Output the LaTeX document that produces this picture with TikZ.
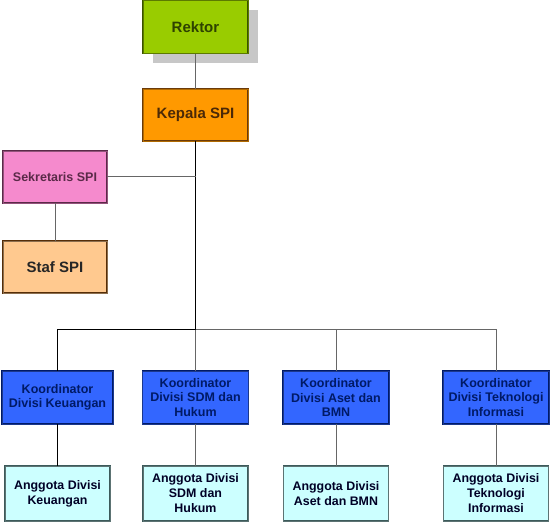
\documentclass[tikz,border=0pt]{standalone}
\usepackage{fontspec}
\setmainfont{Liberation Sans}
\usetikzlibrary{shadows}
\definecolor{hijau}{HTML}{99CC00}
\definecolor{hijautua}{HTML}{3A5200}
\definecolor{oranye}{HTML}{FF9900}
\definecolor{coklat}{HTML}{6B3A0A}
\definecolor{merahmuda}{HTML}{F58ACD}
\definecolor{ungutua}{HTML}{5A2A48}
\definecolor{krem}{HTML}{FFC98F}
\definecolor{biru}{HTML}{3366FF}
\definecolor{birutua}{HTML}{001A66}
\definecolor{tosca}{HTML}{CCFFFF}
\definecolor{toscatua}{HTML}{3C5A5A}
\begin{document}
\begin{tikzpicture}[x = 1pt, y = -1pt,
  kotak/.style = {rectangle, draw, double, line width = 0.5pt, double distance = 0.7pt, align = center, inner sep = 2pt, minimum height = 52pt},
  garis/.style = {draw = gray!80!black, line width = 1pt},
  garishitam/.style = {draw = black, line width = 1pt}]
\useasboundingbox (0,0) rectangle (550,524);
\pgfmathsetlengthmacro\lebar{105};
\node[kotak, minimum width = \lebar, minimum height = 53pt, fill = hijau, draw = hijautua, double = hijau!60!black, text = hijautua!80!black, font = \fontsize{15}{17}\bfseries, drop shadow = {shadow xshift = 10pt, shadow yshift = -10pt, fill = black!22, opacity = 1}] (rektor) at (195.5,27) {Rektor};
\node[kotak, minimum width = \lebar, fill = oranye, draw = coklat, double = oranye!70!black, text = coklat!70!black, font = \fontsize{15}{17}\bfseries] (kepala) at (195.5,115) {Kepala SPI};
\node[kotak, minimum width = 104pt, fill = merahmuda, draw = ungutua, double = merahmuda!60!black, text = ungutua, font = \fontsize{12.5}{15}\bfseries] (sekretaris) at (55,177) {Sekretaris SPI};
\node[kotak, minimum width = 104pt, fill = krem, draw = coklat!80!black, double = krem!55!black, text = black!85, font = \fontsize{15}{17}\bfseries] (staf) at (55,267) {Staf SPI};
\coordinate (cabang) at (195.5,330);
\foreach \n/\x/\w/\k/\a in {1/57.5/111/{Koordinator\\Divisi Keuangan}/{Anggota Divisi\\Keuangan},
  2/195.5/106/{Koordinator\\Divisi SDM dan\\Hukum}/{Anggota Divisi\\SDM dan\\Hukum},
  3/336/106/{Koordinator\\Divisi Aset dan\\BMN}/{Anggota Divisi\\Aset dan BMN},
  4/496/106/{Koordinator\\Divisi Teknologi\\Informasi}/{Anggota Divisi\\Teknologi\\Informasi}}
{
\node[kotak, minimum width = \w pt, minimum height = 53pt, fill = biru, draw = birutua, double = biru!55!black, text = birutua, font = \fontsize{12.5}{14.3}\bfseries] (k\n) at (\x,397.5) {\k};
\node[kotak, minimum width = 105pt, minimum height = 55pt, fill = tosca, draw = toscatua, double = tosca!45!black, text = black!85!blue, font = \fontsize{12.4}{15}\bfseries] (a\n) at (\x,493.5) {\a};
}
\draw[garis] (rektor) -- (kepala);
\draw[garishitam] (kepala) -- (cabang);
\draw[garis] (sekretaris.east) -- (sekretaris.east -| kepala);
\draw[garis] (sekretaris) -- (staf);
\draw[garishitam] (k1.north) -- (k1.north |- cabang) -- (cabang);
\draw[garis] (cabang) -- (k4.north |- cabang) -- (k4.north);
\foreach \n in {2,3} \draw[garis] (k\n.north |- cabang) -- (k\n.north);
\draw[garishitam] (k1) -- (a1);
\foreach \n in {2,3,4} \draw[garis] (k\n) -- (a\n);
\end{tikzpicture}
\end{document}
